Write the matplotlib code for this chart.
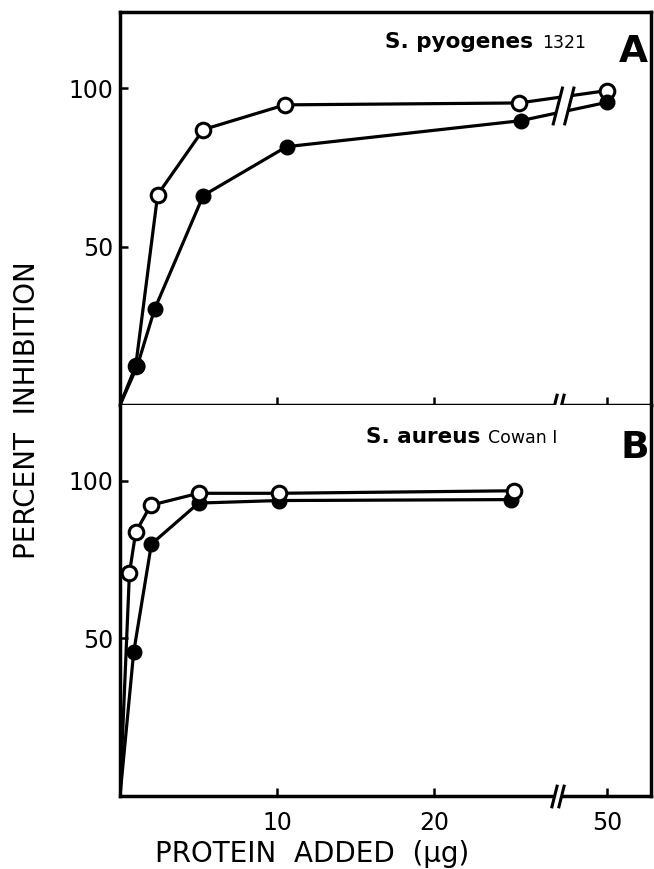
import numpy as np
import matplotlib
matplotlib.use("Agg")
import matplotlib.pyplot as plt

# Panel A: S. pyogenes 1321 (x in ug protein, y in percent inhibition)
a_open_x = [0, 1.0, 2.4, 5.3, 10.5, 25.4, 50]
a_open_y = [0, 12.3, 66.4, 86.9, 94.7, 95.3, 99.2]
a_fill_x = [0, 1.1, 2.2, 5.3, 10.6, 25.5, 50]
a_fill_y = [0, 12.3, 30.2, 66.1, 81.5, 89.7, 95.5]

# Panel B: S. aureus Cowan I
b_open_x = [0, 0.6, 1.0, 1.95, 5.0, 10.1, 25.1]
b_open_y = [0, 70.7, 83.6, 92.2, 96.0, 96.0, 96.8]
b_fill_x = [0, 0.87, 2.0, 5.0, 10.1, 24.9]
b_fill_y = [0, 45.6, 79.9, 92.9, 93.7, 94.0]

xticks = [10, 20, 50]
yticks = [50, 100]

# broken x axis: linear up to 29, compressed above
BRK = 29.0
def fwd(x):
    x = np.asarray(x, float)
    return np.where(x <= BRK, x, BRK + (x - BRK) * 2.0 / 21.0)

def inv(u):
    u = np.asarray(u, float)
    return np.where(u <= BRK, u, BRK + (u - BRK) * 21.0 / 2.0)

plt.rcParams['font.family'] = 'DejaVu Sans'

fig = plt.figure(figsize=(6.54, 8.69), dpi=100)
L, W = 120 / 654, 531 / 654
axA = fig.add_axes([L, 1 - 405 / 869, W, 393 / 869])
axB = fig.add_axes([L, 1 - 796 / 869, W, 391 / 869])

lw = 2.3
ms = 10.5
for ax in (axA, axB):
    ax.set_xscale('function', functions=(fwd, inv))
    ax.set_xlim(0, inv(33.8))
    ax.set_ylim(0, 124)
    ax.set_xticks(xticks)
    ax.set_yticks(yticks)
    ax.minorticks_off()
    ax.tick_params(direction='in', length=6, width=1.8, labelsize=17, pad=5)
    ax.tick_params(axis='x', pad=11)
    for s in ax.spines.values():
        s.set_linewidth(2.5)
    # break marks on the x axis
    ax.plot([27.6, 28.1], [0, 0], color='white', lw=5, solid_capstyle='butt',
            clip_on=False, zorder=4)
    ax.plot([27.6, 28.1], [0, 0], ls='none', marker=[(-0.25, -1), (0.25, 1)],
            ms=17, mew=2.2, color='k', clip_on=False, zorder=5)

axA.tick_params(labelbottom=False)
axB.spines['top'].set_visible(False)

# panel A
axA.plot(a_fill_x, a_fill_y, '-o', color='k', lw=lw, ms=ms, mfc='k', mec='k',
         markevery=range(1, len(a_fill_x)), zorder=3)
axA.plot(a_open_x, a_open_y, '-o', color='k', lw=lw, ms=ms, mfc='white', mec='k',
         mew=2.2, markevery=range(1, len(a_open_x)), zorder=2.8)
# break in the data lines
axA.fill([27.58, 28.16, 28.89, 28.31], [88.7, 100, 100, 88.7], color='white', zorder=3.5)
axA.plot([27.58, 28.16], [88.7, 100], color='k', lw=2.2, zorder=3.6)
axA.plot([28.31, 28.89], [88.7, 100], color='k', lw=2.2, zorder=3.6)

# panel B
axB.plot(b_fill_x, b_fill_y, '-o', color='k', lw=lw, ms=ms, mfc='k', mec='k',
         markevery=range(1, len(b_fill_x)), zorder=2.8)
axB.plot(b_open_x, b_open_y, '-o', color='k', lw=lw, ms=ms, mfc='white', mec='k',
         mew=2.2, markevery=range(1, len(b_open_x)), zorder=3)

axA.text(0.778, 0.908, 'S. pyogenes', transform=axA.transAxes, ha='right',
         va='baseline', fontsize=15.5, fontweight='bold')
axA.text(0.795, 0.908, '1321', transform=axA.transAxes, ha='left',
         va='baseline', fontsize=12.5)
axA.text(0.966, 0.873, 'A', transform=axA.transAxes, ha='center',
         va='baseline', fontsize=27, fontweight='bold')

axB.text(0.678, 0.903, 'S. aureus', transform=axB.transAxes, ha='right',
         va='baseline', fontsize=15.5, fontweight='bold')
axB.text(0.693, 0.903, 'Cowan I', transform=axB.transAxes, ha='left',
         va='baseline', fontsize=12.5)
axB.text(0.97, 0.864, 'B', transform=axB.transAxes, ha='center',
         va='baseline', fontsize=27, fontweight='bold')

axB.set_xlabel('PROTEIN  ADDED  (\u00b5g)', fontsize=20, ha='left', va='baseline')
axB.xaxis.set_label_coords(35 / 531, -66 / 391)
fig.text(27 / 654, 1 - 410 / 869, 'PERCENT  INHIBITION', rotation=90,
         ha='center', va='center', fontsize=20)

fig.savefig('out.png', dpi=100)
